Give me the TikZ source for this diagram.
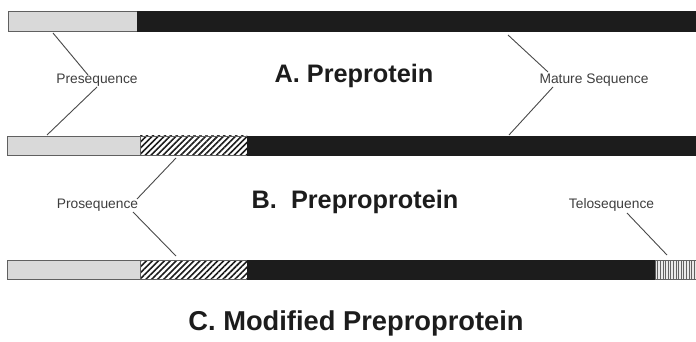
\documentclass[tikz,border=0pt]{standalone}
\usepackage{fontspec}
\setmainfont{Liberation Sans}
\usetikzlibrary{patterns.meta}
\definecolor{stip}{HTML}{D9D9D9}
\definecolor{ink}{HTML}{1C1C1C}
\tikzset{
  seg/.style={draw=ink!70, line width=0.8pt, inner sep=0pt, outer sep=0pt, anchor=north west},
  pre/.style={seg, fill=stip},
  mat/.style={seg, fill=ink, draw=ink},
  pro/.style={seg, fill=white, pattern={Lines[angle=45, distance=4.2pt, line width=1.6pt]}, pattern color=ink},
  telo/.style={seg, fill=stip!60, postaction={pattern={Lines[angle=90, distance=2.6pt, line width=0.8pt]}, pattern color=ink!70}},
  lbl/.style={font=\fontsize{13.8}{15}\selectfont, text=ink!85, anchor=base, inner sep=0pt},
  ttl/.style={font=\fontsize{25.3}{28}\selectfont\bfseries, text=ink, anchor=base, inner sep=0pt},
  con/.style={draw=ink!80, line width=0.9pt}
}
\begin{document}
\begin{tikzpicture}[x=1pt,y=-1pt]
\useasboundingbox (0,0) rectangle (696,342);
% Bar A
\node[pre, minimum width=129pt, minimum height=20pt] (a1) at (8,11) {};
\node[mat, minimum width=559pt, minimum height=20pt] (a2) at (137,11) {};
% Bar B
\node[pre, minimum width=133pt, minimum height=19pt] (b1) at (7,136) {};
\node[pro, minimum width=107pt, minimum height=19pt] (b2) at (140,136) {};
\node[mat, minimum width=449pt, minimum height=19pt] (b3) at (247,136) {};
% Bar C
\node[pre, minimum width=133pt, minimum height=19pt] (c1) at (7,260) {};
\node[pro, minimum width=107pt, minimum height=19pt] (c2) at (140,260) {};
\node[mat, minimum width=408pt, minimum height=19pt] (c3) at (247,260) {};
\node[telo, minimum width=41pt, minimum height=19pt] (c4) at (655,260) {};
% Labels
\node[lbl] (lpre) at (97,84) {Presequence};
\node[lbl] (lmat) at (594,84) {Mature Sequence};
\node[lbl] (lpro) at (97.5,208) {Prosequence};
\node[lbl] (ltelo) at (611.5,208) {Telosequence};
% Titles
\node[ttl] (ta) at (354,83) {A.\ Preprotein};
\node[ttl] (tb) at (355,208) {B.\ \ Preproprotein};
\node[ttl, font=\fontsize{27.3}{30}\selectfont\bfseries] (tc) at (356,330) {C.\ Modified Preproprotein};
% Connector coordinates
\coordinate (p1a) at (53,33);  \coordinate (p1b) at (88,75);
\coordinate (p2a) at (97,87);  \coordinate (p2b) at (47,135);
\coordinate (m1a) at (508,35); \coordinate (m1b) at (548,72);
\coordinate (m2a) at (553,87); \coordinate (m2b) at (509,135);
\coordinate (r1a) at (176,158); \coordinate (r1b) at (137,199);
\coordinate (r2a) at (133,212); \coordinate (r2b) at (176,256);
\coordinate (t1a) at (627,213); \coordinate (t1b) at (667,255);
\draw[con] (p1a) -- (p1b);
\draw[con] (p2a) -- (p2b);
\draw[con] (m1a) -- (m1b);
\draw[con] (m2a) -- (m2b);
\draw[con] (r1a) -- (r1b);
\draw[con] (r2a) -- (r2b);
\draw[con] (t1a) -- (t1b);
\end{tikzpicture}
\end{document}
